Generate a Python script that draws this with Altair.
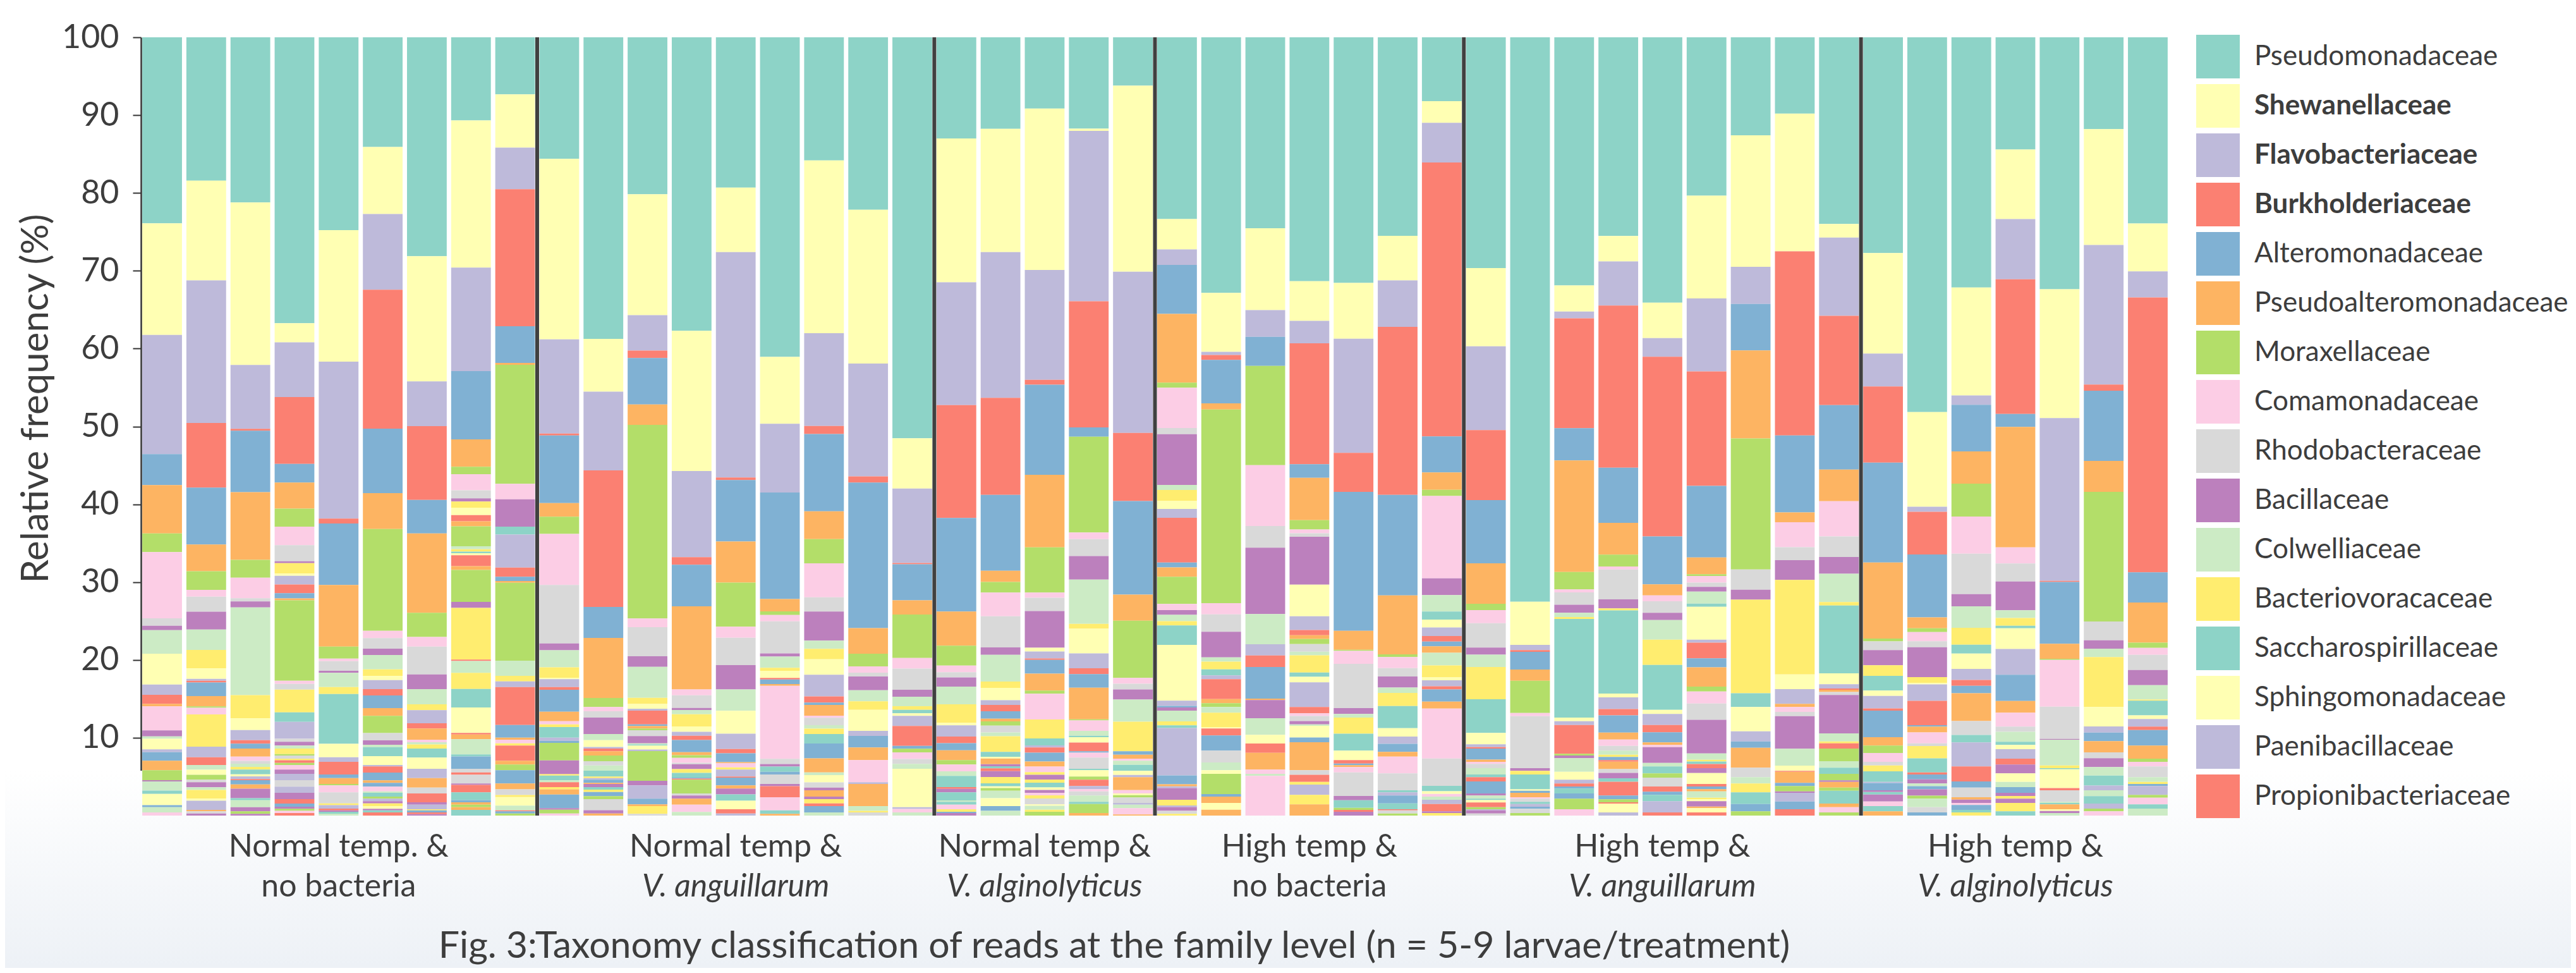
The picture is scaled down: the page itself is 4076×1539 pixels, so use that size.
import altair as alt
import pandas as pd

# ---------------- data ----------------
legend_families = [
    "Pseudomonadaceae", "Shewanellaceae", "Flavobacteriaceae", "Burkholderiaceae",
    "Alteromonadaceae", "Pseudoalteromonadaceae", "Moraxellaceae", "Comamonadaceae",
    "Rhodobacteraceae", "Bacillaceae", "Colwelliaceae", "Bacteriovoracaceae",
    "Saccharospirillaceae", "Sphingomonadaceae", "Paenibacillaceae", "Propionibacteriaceae",
]
bold_families = ["Shewanellaceae", "Flavobacteriaceae", "Burkholderiaceae"]

group_codes = ["NT-ctrl", "NT-Vang", "NT-Valg", "HT-ctrl", "HT-Vang", "HT-Valg"]
group_sizes = [9, 9, 5, 7, 9, 7]
group_line1 = ["Normal temp. &", "Normal temp &", "Normal temp &", "High temp &", "High temp &", "High temp &"]
group_line2 = ["no bacteria", "V. anguillarum", "V. alginolyticus", "no bacteria", "V. anguillarum", "V. alginolyticus"]
group_line2_italic = [False, True, True, False, True, True]

caption = "Fig. 3:Taxonomy classification of reads at the family level (n = 5-9 larvae/treatment)"

# (family rank, relative frequency %) per larva, top of the bar first
b01 = [(0,23.9),(1,14.35),(2,15.3),(4,3.98),(5,6.22),(6,2.39),(7,8.52),(8,0.94),(9,0.57),(10,3.03),(13,3.96),(14,1.32),(15,1.17),(17,0.32),(19,3.09),(21,0.76),(22,0.3),(25,1.38),(26,0.35),(28,1.11),(29,1.22),(30,1.27),(33,0.16),(34,1.19),(36,0.41),(37,1.44),(40,0.27),(46,0.67),(55,0.41)]
b02 = [(0,18.41),(1,12.83),(2,18.32),(3,8.29),(4,7.33),(5,3.43),(6,2.39),(7,0.87),(8,1.93),(9,2.3),(10,2.62),(11,2.38),(13,1.33),(14,0.24),(15,0.22),(16,1.76),(17,1.32),(18,0.17),(19,0.86),(23,4.15),(26,1.35),(27,1.0),(34,0.62),(37,0.65),(42,0.63),(44,0.32),(45,0.65),(46,0.33),(47,1.13),(49,0.27),(50,1.17),(53,0.19),(56,0.27),(57,0.27)]
b03 = [(0,21.2),(1,20.87),(2,8.21),(3,0.24),(4,7.89),(5,8.69),(6,2.3),(7,2.63),(8,0.4),(9,0.77),(10,11.28),(11,2.98),(13,1.49),(14,1.3),(15,0.46),(16,0.62),(17,1.03),(19,0.55),(20,0.37),(22,0.41),(23,0.35),(24,0.6),(25,0.27),(26,0.35),(27,0.14),(28,0.54),(29,0.54),(33,1.22),(36,0.27),(46,0.89),(57,0.54),(66,0.32),(69,0.22)]
b04 = [(0,36.73),(1,2.47),(2,7.02),(3,8.6),(4,2.39),(5,3.35),(6,2.31),(7,2.39),(8,2.07),(9,0.24),(11,1.33),(13,0.3),(14,1.1),(15,1.13),(16,0.67),(17,0.23),(18,10.34),(19,0.41),(20,0.73),(23,2.92),(24,1.22),(26,2.17),(32,0.4),(33,0.49),(34,0.38),(35,0.7),(42,0.19),(44,0.41),(47,0.2),(51,0.34),(54,0.27),(55,0.6),(57,0.54),(62,0.81),(68,0.84),(74,0.79),(81,0.81),(87,0.57),(88,0.4),(93,0.27),(102,0.27),(103,0.28),(111,0.32)]
b05 = [(0,24.78),(1,16.89),(2,20.16),(3,0.64),(4,7.89),(5,7.92),(6,1.55),(7,0.32),(8,1.25),(9,0.27),(10,1.81),(11,0.9),(12,6.41),(13,1.71),(14,0.6),(15,1.62),(16,0.46),(17,0.76),(18,0.19),(19,0.89),(20,1.41),(23,0.22),(26,0.46),(27,0.21),(33,0.19),(36,0.25),(46,0.24)]
b06 = [(0,14.1),(1,8.61),(2,9.72),(3,17.85),(4,8.29),(5,4.62),(6,13.06),(7,0.95),(8,1.35),(9,0.81),(10,1.85),(11,0.86),(13,0.52),(14,1.16),(15,0.82),(16,1.62),(17,1.0),(18,2.2),(20,0.94),(21,0.57),(22,0.3),(24,1.16),(25,1.14),(26,0.19),(27,0.79),(28,1.0),(29,0.32),(40,0.49),(43,0.6),(46,0.19),(48,0.48),(54,0.27),(62,0.33),(69,0.27),(71,0.35),(73,0.35),(81,0.19),(84,0.27),(87,0.41)]
b07 = [(0,28.13),(1,16.09),(2,5.74),(3,9.48),(4,4.31),(5,10.19),(6,3.11),(7,1.23),(8,3.58),(9,1.89),(10,1.95),(11,0.76),(14,1.68),(15,0.68),(17,1.43),(19,0.33),(22,0.29),(23,0.52),(24,1.16),(25,1.44),(26,1.19),(29,1.22),(32,0.76),(39,1.13),(45,0.3),(50,0.6),(59,0.13),(64,0.27),(75,0.22),(81,0.19)]
b08 = [(0,10.68),(1,18.88),(2,13.31),(4,8.76),(5,3.51),(6,0.96),(7,2.07),(8,1.03),(9,0.4),(11,0.8),(13,0.95),(15,0.8),(17,0.65),(18,2.54),(22,0.4),(23,0.3),(24,0.2),(25,0.26),(27,1.4),(29,0.5),(30,4.1),(33,0.76),(35,6.63),(39,0.19),(46,1.52),(47,2.08),(48,2.36),(49,3.28),(51,0.19),(53,0.62),(58,1.95),(60,0.27),(64,1.57),(68,0.46),(75,0.32),(80,1.11),(81,0.19),(87,0.95),(96,1.0),(100,0.27),(101,0.3),(102,0.33),(113,0.35),(120,0.73)]
b09 = [(0,7.33),(1,6.85),(2,5.34),(3,17.61),(4,4.7),(5,0.24),(6,15.3),(7,1.99),(9,3.51),(12,1.03),(14,4.23),(15,1.19),(16,0.54),(17,0.22),(18,10.02),(22,1.95),(23,0.7),(26,0.73),(27,4.88),(28,1.62),(29,0.27),(31,0.46),(35,0.3),(39,1.95),(41,0.49),(42,0.73),(52,1.7),(53,0.74),(56,0.73),(59,0.27),(61,1.11),(70,0.59),(75,0.14),(76,0.27),(78,0.27)]
b10 = [(0,15.62),(1,23.18),(2,12.12),(3,0.24),(4,8.68),(5,1.75),(6,2.23),(7,6.54),(8,7.52),(9,0.87),(10,2.21),(11,1.36),(13,0.16),(14,1.0),(15,0.35),(16,2.82),(17,1.22),(19,0.41),(23,0.35),(24,1.35),(26,0.41),(28,0.27),(30,2.25),(33,1.76),(35,0.19),(36,0.62),(46,0.24),(51,0.62),(59,0.28),(65,0.67),(76,1.76),(81,0.19),(90,0.49),(91,0.27)]
b11 = [(0,38.73),(1,6.77),(2,10.12),(3,17.53),(4,3.98),(5,7.7),(6,1.16),(7,0.55),(8,0.81),(9,2.11),(10,0.79),(13,0.89),(14,0.2),(15,0.34),(17,0.54),(18,0.73),(20,0.55),(22,0.67),(24,0.76),(35,0.19),(38,0.22),(40,0.4),(41,0.14),(45,0.4),(48,0.33),(59,0.3),(64,0.54),(66,0.38),(68,1.43),(69,0.41),(77,0.27)]
b12 = [(0,20.16),(1,15.54),(2,4.54),(3,0.96),(4,5.97),(5,2.63),(6,24.86),(7,1.12),(8,3.74),(9,1.36),(10,3.98),(11,0.8),(13,0.6),(14,0.25),(15,1.76),(16,0.21),(17,0.33),(18,0.21),(20,0.76),(21,0.92),(22,0.15),(24,0.15),(25,0.51),(26,0.19),(30,3.82),(33,0.6),(38,1.7),(40,0.73),(41,0.22),(47,1.0),(56,0.22)]
b13 = [(0,37.69),(1,18.01),(2,11.07),(3,0.96),(4,5.34),(5,10.68),(7,0.76),(8,1.62),(9,0.27),(10,0.54),(11,1.57),(13,0.68),(14,0.51),(15,0.55),(16,1.57),(17,0.38),(18,0.35),(19,0.62),(20,0.19),(21,0.62),(23,0.49),(24,0.6),(28,0.14),(39,0.14),(42,1.76),(44,0.27),(45,0.4),(53,0.76),(55,0.95),(58,0.46)]
b14 = [(0,19.28),(1,8.29),(2,28.92),(3,0.32),(4,7.89),(5,5.26),(6,5.66),(7,1.43),(8,3.51),(9,3.11),(10,2.74),(13,2.94),(14,1.98),(15,0.54),(16,1.13),(17,0.14),(19,0.54),(23,0.27),(26,0.9),(27,0.14),(28,1.0),(29,0.4),(33,0.76),(36,0.81),(37,1.09),(39,0.54),(50,0.27)]
b15 = [(0,41.12),(1,8.6),(2,8.85),(4,13.7),(5,1.59),(6,0.48),(7,0.8),(8,4.14),(9,0.4),(10,1.44),(11,0.4),(13,0.9),(15,0.2),(16,0.6),(17,0.22),(19,9.39),(20,0.68),(21,0.32),(24,0.68),(28,0.35),(32,1.22),(33,0.27),(39,1.43),(43,1.68),(48,0.46),(53,0.22)]
b16 = [(0,15.86),(1,22.23),(2,11.95),(3,1.04),(4,9.96),(5,3.58),(6,3.11),(7,4.38),(8,1.83),(9,3.75),(10,1.04),(11,1.35),(13,1.99),(14,2.79),(15,0.8),(16,0.3),(17,1.38),(19,0.28),(20,0.94),(22,0.46),(23,0.68),(24,1.22),(28,1.92),(29,1.82),(34,0.35),(37,0.92),(44,0.68),(45,0.35),(53,0.81),(57,0.33),(59,0.54),(63,0.35),(64,0.81),(70,0.41)]
b17 = [(0,22.15),(1,19.76),(2,14.5),(3,0.8),(4,18.7),(5,3.29),(6,1.63),(7,0.81),(8,0.49),(9,1.76),(10,1.43),(11,1.09),(13,2.7),(14,0.65),(16,1.49),(17,1.63),(19,2.84),(26,0.22),(29,2.84),(34,0.62),(35,0.19),(44,0.41)]
b18 = [(0,51.47),(1,6.46),(2,9.56),(3,0.16),(4,4.62),(5,1.83),(6,5.58),(7,1.36),(8,2.71),(9,0.91),(10,1.2),(11,0.48),(12,0.44),(13,0.32),(14,1.3),(15,2.57),(16,0.36),(18,0.46),(19,0.86),(20,0.63),(22,0.62),(25,4.93),(26,0.22),(31,0.45),(34,0.41)]
b19 = [(0,12.99),(1,18.48),(2,15.78),(3,14.5),(4,12.03),(5,4.39),(6,2.55),(7,0.87),(8,0.67),(9,1.17),(10,2.27),(11,2.39),(13,0.32),(14,1.44),(15,0.84),(16,0.92),(17,1.27),(18,0.57),(19,0.86),(22,0.6),(24,1.43),(27,0.22),(33,0.46),(36,1.03),(46,0.19),(48,0.35),(55,0.6),(59,0.33),(64,0.16),(69,0.32)]
b20 = [(0,11.71),(1,15.78),(2,18.65),(3,12.43),(4,9.72),(5,1.43),(6,1.36),(7,3.02),(8,3.99),(9,0.95),(10,3.43),(11,0.8),(13,1.59),(14,0.6),(15,0.81),(16,0.95),(17,0.35),(18,0.54),(20,0.87),(22,0.49),(23,2.0),(24,0.62),(25,0.22),(29,0.73),(33,0.27),(36,0.27),(39,0.35),(45,0.76),(47,0.81),(48,0.38),(49,0.22),(54,0.35),(58,0.95),(61,1.0),(64,0.62),(70,0.6)]
b21 = [(0,9.16),(1,20.72),(2,14.1),(3,0.64),(4,11.56),(5,9.32),(6,5.81),(7,0.66),(8,1.71),(9,4.71),(13,0.49),(14,0.89),(15,0.19),(16,1.76),(17,2.17),(18,0.4),(19,3.31),(23,2.44),(24,0.89),(26,0.27),(27,0.68),(28,1.13),(29,0.65),(31,0.71),(35,0.35),(45,0.6),(47,0.4),(48,0.62),(49,0.33),(57,0.35),(67,0.33),(71,0.4),(80,0.76),(85,0.19),(94,0.49),(95,0.27),(102,0.49)]
b22 = [(0,11.71),(1,0.3),(2,21.85),(3,16.18),(4,1.2),(6,12.27),(7,0.87),(8,2.15),(9,3.03),(10,5.68),(11,0.63),(13,3.16),(14,1.9),(15,0.76),(16,1.73),(17,4.06),(18,0.14),(19,1.35),(22,0.62),(24,0.19),(25,0.68),(27,1.11),(28,0.19),(31,0.62),(32,1.44),(36,0.19),(37,0.81),(42,0.41),(51,0.81),(62,0.41),(67,0.27),(68,0.54),(70,0.81),(72,0.27),(78,1.17),(89,0.32)]
b23 = [(0,6.22),(1,23.9),(2,20.72),(3,8.76),(4,12.02),(5,3.34),(6,7.36),(7,0.76),(8,0.73),(9,1.3),(10,2.84),(11,3.79),(16,0.46),(17,0.49),(19,0.27),(22,0.54),(24,0.76),(25,0.54),(26,0.27),(29,1.68),(31,0.41),(37,0.22),(42,0.32),(44,0.68),(50,0.22),(58,0.46),(67,0.81),(77,0.14)]
b24 = [(0,23.35),(1,3.9),(2,1.99),(4,6.3),(5,8.84),(6,0.64),(7,5.18),(8,0.8),(9,6.53),(10,0.64),(11,1.43),(13,1.0),(14,1.15),(15,5.74),(16,0.64),(17,1.19),(18,3.49),(19,0.79),(21,0.62),(22,0.81),(23,0.55),(24,2.49),(25,7.17),(26,0.68),(28,0.19),(33,0.41),(34,1.38),(35,0.51),(36,0.35),(38,6.1),(40,1.13),(41,0.27),(50,0.22),(57,1.49),(59,0.73),(62,0.22),(69,0.49),(80,0.38),(83,0.22)]
b25 = [(0,32.83),(1,7.57),(2,0.4),(3,0.63),(4,5.58),(5,0.8),(6,24.86),(7,1.43),(8,2.24),(9,3.3),(10,0.54),(11,1.0),(12,0.77),(14,0.48),(15,2.57),(17,0.52),(18,0.48),(22,0.74),(23,1.84),(25,0.19),(27,0.89),(28,1.95),(32,1.52),(34,1.0),(37,0.46),(42,2.6),(52,0.32),(53,0.82),(61,0.86),(65,0.76)]
b26 = [(0,24.54),(1,10.52),(2,3.43),(4,3.74),(6,12.75),(7,7.81),(8,2.79),(9,8.52),(10,3.88),(14,1.44),(15,1.49),(16,4.06),(17,0.19),(21,2.33),(22,2.14),(25,1.11),(27,1.19),(29,2.17),(31,0.54),(34,0.27),(43,5.09)]
b27 = [(0,31.31),(1,5.1),(2,2.87),(3,15.54),(4,1.75),(5,5.42),(6,1.2),(7,0.5),(8,0.45),(9,6.14),(13,4.06),(14,1.76),(15,0.67),(17,0.5),(18,0.64),(20,0.98),(22,0.46),(23,2.22),(24,0.54),(25,0.71),(26,3.16),(27,0.82),(31,0.35),(32,0.65),(33,0.41),(34,0.2),(37,1.5),(40,0.6),(41,3.6),(44,0.59),(51,0.9),(59,0.35),(62,1.33),(71,1.21),(77,1.44)]
b28 = [(0,31.55),(1,7.18),(2,14.66),(3,5.02),(4,17.84),(5,2.44),(6,0.14),(7,1.67),(8,5.69),(9,0.76),(10,0.46),(11,2.08),(12,2.17),(13,1.22),(15,0.43),(16,0.22),(17,0.24),(19,0.68),(20,3.03),(21,0.54),(24,0.98),(30,0.27),(39,0.24),(45,0.49)]
b29 = [(0,25.5),(1,5.74),(2,5.97),(3,21.59),(4,12.91),(5,7.57),(6,0.36),(7,1.41),(8,1.08),(9,1.43),(10,0.68),(11,1.68),(12,2.84),(13,1.09),(14,0.94),(16,1.03),(17,0.6),(19,2.16),(20,2.17),(24,0.27),(26,0.41),(28,1.0),(36,0.76),(39,0.14),(44,0.4),(54,0.27)]
b30 = [(0,8.2),(1,2.8),(2,5.1),(3,35.21),(4,4.63),(5,2.23),(6,0.79),(7,10.58),(9,2.16),(10,2.11),(12,1.03),(13,1.03),(14,1.08),(15,0.73),(16,0.6),(17,0.84),(22,1.62),(23,1.54),(25,0.36),(26,0.78),(27,0.41),(28,1.57),(29,0.89),(31,6.42),(32,3.52),(36,0.68),(37,0.35),(43,0.35),(46,0.4),(50,0.54),(51,0.95),(57,0.22),(59,0.32)]
b31 = [(0,29.64),(1,10.04),(2,10.76),(3,9.0),(4,8.13),(5,5.18),(6,0.81),(7,1.7),(8,3.12),(9,0.92),(10,1.57),(11,4.14),(12,4.34),(13,1.46),(14,0.35),(15,0.19),(16,1.43),(17,0.28),(19,0.27),(20,0.54),(22,0.81),(24,0.35),(27,0.54),(28,1.55),(33,0.27),(34,0.4),(36,0.19),(37,0.3),(39,0.6),(42,0.27),(50,0.14),(57,0.4),(68,0.27)]
b32 = [(0,72.52),(1,5.55),(2,0.67),(3,0.22),(4,2.27),(5,1.44),(6,4.14),(7,0.41),(8,6.69),(9,0.35),(11,0.46),(12,1.9),(13,0.19),(16,0.27),(17,0.56),(19,0.19),(20,0.41),(24,0.27),(26,0.35),(28,0.27),(32,0.55),(42,0.32)]
b33 = [(0,31.87),(1,3.35),(2,0.88),(3,14.1),(4,4.14),(5,14.35),(6,2.22),(7,0.4),(8,1.58),(9,1.03),(10,0.54),(11,0.25),(12,12.67),(13,0.46),(14,0.49),(15,3.71),(18,0.21),(21,0.35),(22,1.74),(25,1.03),(26,0.48),(27,0.38),(28,0.27),(36,0.63),(40,0.67),(42,1.36),(43,0.81)]
b34 = [(0,25.5),(1,3.26),(2,5.66),(3,20.8),(4,7.09),(5,4.06),(6,1.52),(7,0.4),(8,3.82),(9,1.16),(11,0.27),(12,10.67),(13,0.49),(14,1.49),(15,0.81),(16,2.22),(17,0.89),(19,0.81),(20,0.6),(22,0.54),(23,0.27),(28,0.41),(39,0.2),(41,0.96),(44,0.49),(45,0.68),(48,0.46),(51,1.76),(52,0.48),(54,0.38),(63,0.16),(73,1.14),(74,0.41)]
b35 = [(0,34.1),(1,4.55),(2,2.39),(3,23.1),(4,6.14),(5,1.43),(7,0.75),(8,1.49),(9,0.92),(10,2.52),(11,3.25),(12,5.77),(13,0.54),(14,1.41),(15,0.94),(16,1.3),(17,0.33),(19,0.27),(21,2.03),(22,0.46),(24,0.89),(30,0.55),(32,1.13),(39,0.68),(40,0.4),(48,0.82),(50,1.43),(51,0.41)]
b36 = [(0,20.4),(1,13.23),(2,9.4),(3,14.74),(4,9.24),(5,2.15),(6,0.22),(7,0.86),(8,0.54),(9,0.62),(10,1.55),(12,0.4),(13,4.23),(14,0.4),(15,2.01),(16,1.16),(17,2.49),(18,0.62),(19,1.55),(20,2.11),(21,4.33),(22,0.81),(23,0.22),(24,0.33),(27,0.54),(33,0.62),(37,1.41),(39,0.32),(40,0.36),(41,0.27),(46,0.81),(47,0.19),(49,0.27),(57,0.68),(65,0.22),(73,0.54),(75,0.41)]
b37 = [(0,12.59),(1,16.89),(2,4.78),(4,5.98),(5,11.31),(6,16.82),(8,2.6),(9,1.28),(11,12.04),(12,1.76),(13,3.12),(14,1.3),(16,0.81),(17,2.57),(20,1.22),(22,0.81),(23,1.14),(24,1.49),(28,0.95),(30,0.54)]
b38 = [(0,9.8),(1,17.69),(3,23.67),(4,9.88),(5,1.27),(7,3.19),(8,1.67),(9,2.55),(11,12.13),(13,1.89),(14,1.9),(17,0.4),(19,0.63),(20,0.54),(21,4.2),(22,2.16),(25,0.68),(27,0.11),(29,1.43),(40,0.41),(42,0.68),(45,0.19),(50,1.11),(52,1.0),(63,0.81)]
b39 = [(0,23.98),(1,1.76),(2,10.04),(3,11.47),(4,8.29),(5,4.06),(7,4.54),(8,2.63),(9,2.15),(10,3.65),(11,0.43),(12,8.72),(13,1.41),(14,0.54),(15,0.16),(17,0.28),(20,0.4),(21,4.93),(22,1.03),(23,0.24),(27,0.68),(30,1.62),(34,0.84),(36,0.79),(42,0.84),(45,0.19),(53,0.73),(54,0.41),(60,1.65),(65,0.46),(67,0.67),(78,0.41)]
b40 = [(0,27.73),(1,12.91),(2,4.22),(3,9.8),(4,12.83),(5,9.76),(6,0.36),(8,1.13),(9,1.95),(11,1.36),(12,1.89),(13,0.68),(14,1.62),(15,0.28),(16,3.41),(17,1.08),(18,0.95),(19,1.14),(20,0.46),(23,0.75),(24,1.36),(26,0.14),(28,0.94),(33,0.22),(36,0.32),(45,0.9),(55,0.59),(60,0.68),(65,0.54)]
b41 = [(0,48.21),(1,12.19),(2,0.64),(3,5.49),(4,8.1),(5,1.4),(6,0.49),(7,1.19),(8,0.76),(9,3.84),(11,0.76),(13,0.19),(14,2.11),(15,3.12),(16,0.19),(17,0.75),(19,1.41),(20,0.35),(23,1.57),(24,1.82),(27,0.27),(28,0.62),(33,0.54),(34,0.33),(40,0.41),(45,0.81),(54,0.4),(58,1.09),(68,0.67),(76,0.41)]
b42 = [(0,32.11),(1,13.87),(2,1.19),(4,5.98),(5,4.14),(6,4.22),(7,4.78),(8,5.18),(9,1.57),(10,2.76),(11,2.17),(12,1.13),(13,1.98),(14,1.41),(15,0.76),(16,0.94),(17,3.58),(20,1.79),(24,0.94),(26,3.09),(27,1.92),(28,0.79),(32,1.24),(41,0.32),(45,0.42),(55,0.27),(64,0.62),(72,0.32),(83,0.41)]
b43 = [(0,14.42),(1,8.93),(2,7.73),(3,17.29),(4,1.67),(5,15.46),(7,2.07),(8,2.31),(9,3.69),(10,1.0),(11,1.0),(12,0.32),(13,2.66),(14,3.3),(16,3.38),(17,1.5),(19,1.78),(20,0.68),(22,1.27),(24,0.41),(25,0.54),(26,1.22),(27,0.76),(33,1.13),(37,1.09),(46,0.67),(52,0.74),(57,0.4),(59,0.35),(69,0.55),(71,1.08),(72,0.54)]
b44 = [(0,32.43),(1,16.57),(2,20.94),(3,0.14),(4,7.97),(5,1.92),(6,0.14),(7,6.03),(8,4.14),(9,0.1),(10,3.32),(11,0.35),(12,0.14),(13,2.43),(15,0.27),(20,1.49),(22,0.14),(24,0.19),(29,0.63),(37,0.22),(45,0.27),(46,0.32)]
b45 = [(0,11.79),(1,14.9),(2,17.93),(3,0.8),(4,9.0),(5,3.99),(6,16.65),(8,2.41),(9,1.08),(10,1.09),(11,6.41),(13,2.49),(14,0.79),(16,1.11),(17,1.44),(20,0.75),(21,1.14),(22,1.09),(24,1.29),(26,0.6),(34,0.76),(36,0.95),(38,0.65),(42,0.35),(43,0.54)]
b46 = [(0,23.9),(1,6.14),(2,3.35),(3,35.3),(4,3.87),(5,5.15),(6,0.67),(7,0.9),(8,1.95),(9,1.95),(10,1.84),(11,0.14),(12,1.89),(13,0.46),(14,0.97),(15,0.46),(16,1.98),(17,1.68),(18,0.41),(19,0.59),(20,1.38),(22,0.6),(23,0.27),(28,0.27),(38,1.14),(42,0.35),(43,0.86),(48,0.55),(58,0.89)]

larvae = [b01, b02, b03, b04, b05, b06, b07, b08, b09, b10, b11, b12, b13, b14, b15, b16,
          b17, b18, b19, b20, b21, b22, b23, b24, b25, b26, b27, b28, b29, b30, b31, b32,
          b33, b34, b35, b36, b37, b38, b39, b40, b41, b42, b43, b44, b45, b46]

set3 = ["#8dd3c7", "#ffffb3", "#bebada", "#fb8072", "#80b1d3", "#fdb462",
        "#b3de69", "#fccde5", "#d9d9d9", "#bc80bd", "#ccebc5", "#ffed6f"]

# ---------------- tables ----------------
n_fam = 1 + max(fi for bar in larvae for fi, _ in bar)
family_names = legend_families + [f"Family {i + 1}" for i in range(len(legend_families), n_fam)]
family_colors = [set3[i % len(set3)] for i in range(n_fam)]

sample_ids = []
for code, n in zip(group_codes, group_sizes):
    for j in range(n):
        sample_ids.append(f"{code}-{j + 1}")

rows = []
for sid, bar in zip(sample_ids, larvae):
    for fi, v in bar:
        rows.append({"sample": sid, "family": family_names[fi], "rank": fi, "value": v})
df = pd.DataFrame(rows)

starts = []
acc = 0
for n in group_sizes:
    starts.append(acc)
    acc += n
sep_df = pd.DataFrame({"sample": [sample_ids[s] for s in starts[1:]]})
lab_df = pd.DataFrame({
    "sample": [sample_ids[s + n // 2] for s, n in zip(starts, group_sizes)],
    "line1": group_line1,
    "line2": group_line2,
    "italic": group_line2_italic,
})

# ---------------- chart ----------------
W, H = 3209, 1231
TXT = "#3d3d3d"
FONT = "Lato"

xscale = alt.Scale(domain=sample_ids, paddingInner=0.1, paddingOuter=0.03)
xenc = alt.X("sample:N", scale=xscale, axis=None, sort=sample_ids)

bold_expr = "indexof(" + str(bold_families) + ", datum.label) >= 0 ? 'bold' : 'normal'"

background = alt.Chart(alt.Data(values=[{"a": 1}])).mark_rect(
    fill=alt.Gradient(gradient="linear",
                      stops=[alt.GradientStop(color="#ffffff", offset=0),
                             alt.GradientStop(color="#edf1f6", offset=1)],
                      x1=0, x2=0, y1=0, y2=1)
).encode(x=alt.value(-215), x2=alt.value(W + 636), y=alt.value(1160), y2=alt.value(1472))

bars = alt.Chart(df).mark_bar().encode(
    x=xenc,
    y=alt.Y("value:Q", stack="normalize",
            scale=alt.Scale(domain=[0, 1], nice=False),
            axis=alt.Axis(values=[i / 10 for i in range(11)],
                          labelExpr="datum.value == 0 ? '' : format(datum.value * 100, 'd')",
                          title="Relative frequency (%)", grid=False,
                          domainColor="#333333", domainWidth=2.5,
                          tickColor="#333333", tickWidth=2, tickSize=13,
                          labelFont=FONT, labelFontSize=52, labelColor=TXT, labelPadding=22,
                          titleFont=FONT, titleFontSize=60, titleFontWeight="normal",
                          titleColor=TXT, titleAngle=270, titleX=-166, titleY=571,
                          titleAlign="center", titleBaseline="middle")),
    color=alt.Color("family:N",
                    scale=alt.Scale(domain=family_names, range=family_colors),
                    legend=alt.Legend(values=legend_families, title=None, orient="none",
                                      legendX=W + 43, legendY=-4, padding=0,
                                      symbolType="square", symbolSize=4761,
                                      symbolStrokeWidth=0, symbolOpacity=1,
                                      rowPadding=9, labelOffset=23,
                                      labelFont=FONT, labelFontSize=44, labelColor=TXT,
                                      labelLimit=900, labelBaseline="middle",
                                      labelFontWeight=alt.ExprRef(bold_expr))),
    order=alt.Order("rank:Q", sort="descending"),
)

seps = alt.Chart(sep_df).mark_rule(color="#404040", strokeWidth=6).encode(
    x=alt.X("sample:N", scale=xscale, axis=None, sort=sample_ids, bandPosition=0),
    xOffset=alt.value(-3.5),
    y=alt.value(0), y2=alt.value(H),
)

lab1 = alt.Chart(lab_df).mark_text(font=FONT, fontSize=50, color=TXT, baseline="middle").encode(
    x=xenc, y=alt.value(1281), text="line1:N")
lab2n = alt.Chart(lab_df).transform_filter("!datum.italic").mark_text(
    font=FONT, fontSize=50, color=TXT, baseline="middle").encode(
    x=xenc, y=alt.value(1344), text="line2:N")
lab2i = alt.Chart(lab_df).transform_filter("datum.italic").mark_text(
    font=FONT, fontSize=50, color=TXT, baseline="middle", fontStyle="italic").encode(
    x=xenc, y=alt.value(1344), text="line2:N")

cap = alt.Chart(alt.Data(values=[{"t": caption}])).mark_text(
    font=FONT, fontSize=59, color=TXT, baseline="middle", align="center").encode(
    x=alt.value(1540), y=alt.value(1438), text="t:N")

chart = alt.layer(background, bars, seps, lab1, lab2n, lab2i, cap).properties(
    width=W, height=H,
    autosize=alt.AutoSizeParams(type="none"),
    padding={"left": 215, "top": 51, "right": 636, "bottom": 241},
    background="#ffffff",
).configure_view(stroke=None)

chart.save("out.html", embed_options={"renderer": "svg", "actions": False})
